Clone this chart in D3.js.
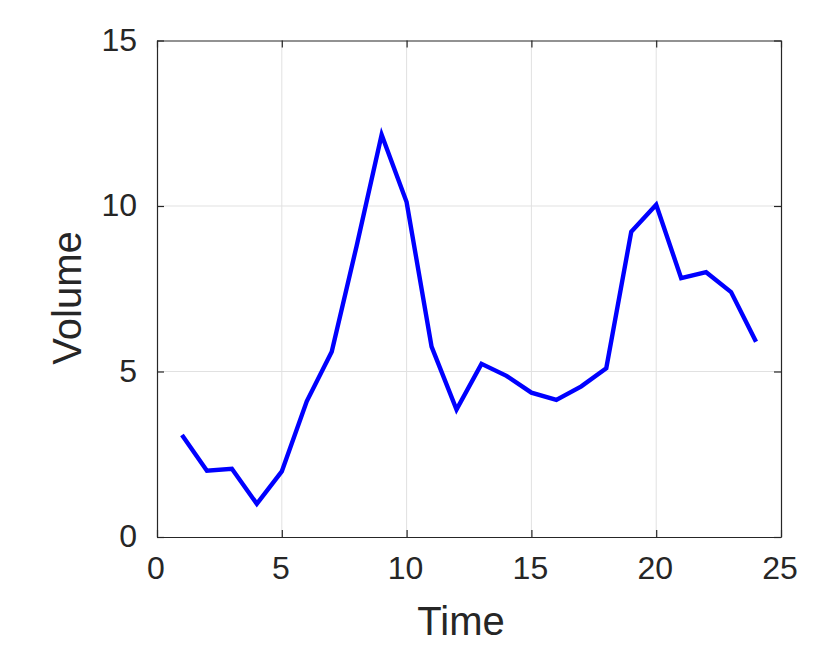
<!DOCTYPE html>
<html>
<head>
<meta charset="utf-8">
<script src="https://cdn.jsdelivr.net/npm/d3@7"></script>
<style>
  html, body { margin: 0; padding: 0; background: #ffffff; }
  text { font-family: "Liberation Sans", Arial, Helvetica, sans-serif; fill: #262626; }
</style>
</head>
<body>
<svg id="chart" width="831" height="664"></svg>
<script>
const time = [1, 2, 3, 4, 5, 6, 7, 8, 9, 10, 11, 12, 13, 14, 15, 16, 17, 18, 19, 20, 21, 22, 23, 24];
const volume = [3.08, 2.0, 2.06, 1.0, 1.98, 4.1, 5.6, 8.8, 12.15, 10.12, 5.75, 3.85, 5.23, 4.87, 4.36, 4.14, 4.55, 5.1, 9.22, 10.04, 7.82, 8.0, 7.4, 5.9];
const xTicks = [0, 5, 10, 15, 20, 25];
const yTicks = [0, 5, 10, 15];
const xLabel = "Time";
const yLabel = "Volume";

const W = 831, H = 664;
const margin = { left: 157, right: 831 - 781, top: 40.5, bottom: 664 - 537 };
const svg = d3.select("#chart");
const x = d3.scaleLinear().domain([0, 25]).range([margin.left, W - margin.right]);
const y = d3.scaleLinear().domain([0, 15]).range([H - margin.bottom, margin.top]);

const axisColor = "#262626";
const tickLen = 7;
const tickFont = 32;

// grid
const grid = svg.append("g");
grid.selectAll("line.gx").data(xTicks.slice(1, -1)).join("line")
  .attr("x1", d => x(d)).attr("x2", d => x(d))
  .attr("y1", y(0)).attr("y2", y(15))
  .attr("stroke", "#e1e1e1").attr("stroke-width", 1);
grid.selectAll("line.gy").data(yTicks.slice(1, -1)).join("line")
  .attr("x1", x(0)).attr("x2", x(25))
  .attr("y1", d => y(d)).attr("y2", d => y(d))
  .attr("stroke", "#e1e1e1").attr("stroke-width", 1);

function styleAxis(g) {
  g.select(".domain").attr("stroke", axisColor).attr("stroke-width", 1.2);
  g.selectAll(".tick line").attr("stroke", axisColor).attr("stroke-width", 1.2);
  g.selectAll(".tick text").attr("font-size", tickFont).attr("fill", axisColor)
    .style("font-family", "'Liberation Sans', Arial, sans-serif");
}

const xAxis = svg.append("g").attr("transform", `translate(0,${y(0)})`)
  .call(d3.axisBottom(x).tickValues(xTicks).tickFormat(d3.format("d"))
    .tickSizeInner(-tickLen).tickSizeOuter(0).tickPadding(tickLen + 12));
styleAxis(xAxis);
xAxis.selectAll(".tick text").attr("dx", -1.5);

const xAxisTop = svg.append("g").attr("transform", `translate(0,${y(15)})`)
  .call(d3.axisTop(x).tickValues(xTicks).tickFormat("")
    .tickSizeInner(-tickLen).tickSizeOuter(0));
styleAxis(xAxisTop);

const yAxis = svg.append("g").attr("transform", `translate(${x(0)},0)`)
  .call(d3.axisLeft(y).tickValues(yTicks).tickFormat(d3.format("d"))
    .tickSizeInner(-tickLen).tickSizeOuter(0).tickPadding(tickLen + 13));
styleAxis(yAxis);
yAxis.selectAll(".tick text").attr("dy", "0.3em");

const yAxisRight = svg.append("g").attr("transform", `translate(${x(25)},0)`)
  .call(d3.axisRight(y).tickValues(yTicks).tickFormat("")
    .tickSizeInner(-tickLen).tickSizeOuter(0));
styleAxis(yAxisRight);

// line
const line = d3.line().x((d, i) => x(time[i])).y(d => y(d));
svg.append("path").datum(volume)
  .attr("d", line)
  .attr("fill", "none")
  .attr("stroke", "#0000ff")
  .attr("stroke-width", 4.4)
  .attr("stroke-linejoin", "miter");

// labels
svg.append("text")
  .attr("x", 461).attr("y", 635)
  .attr("text-anchor", "middle").attr("font-size", 40)
  .text(xLabel);

svg.append("text")
  .attr("transform", `translate(81,298) rotate(-90)`)
  .attr("text-anchor", "middle").attr("font-size", 40)
  .text(yLabel);
</script>
</body>
</html>
